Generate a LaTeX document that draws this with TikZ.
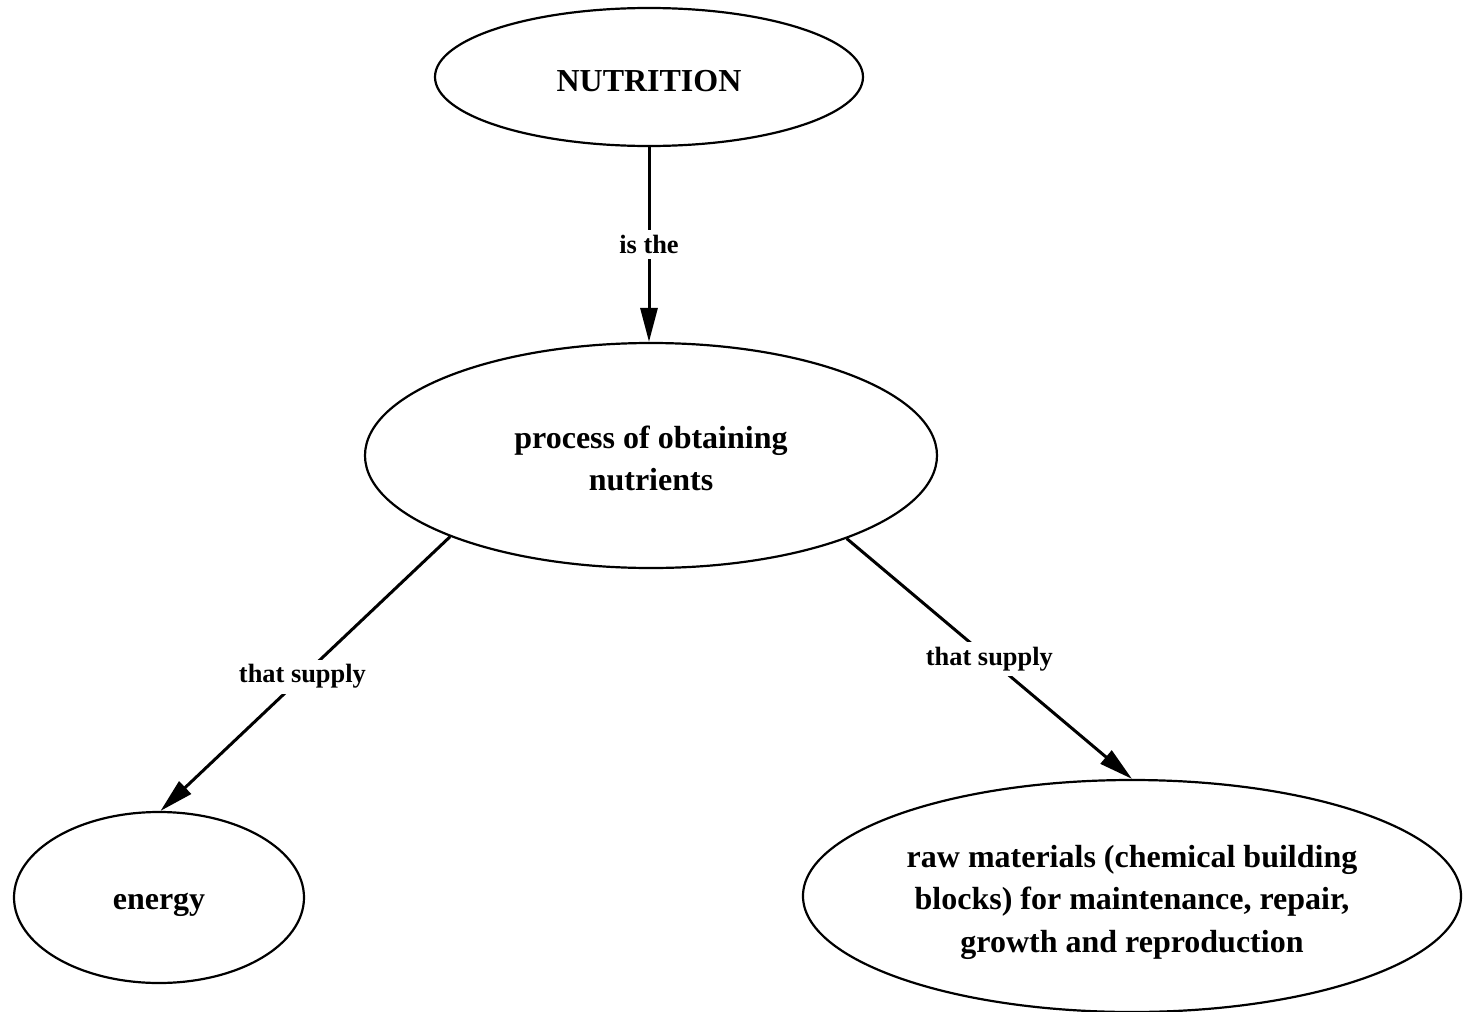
\documentclass[tikz,border=0pt]{standalone}
\usepackage{fontspec}
\setmainfont{Liberation Serif}
\usetikzlibrary{shapes.geometric,arrows.meta}
\begin{document}
\begin{tikzpicture}[x=0.5pt,y=-0.5pt,
  concept/.style={ellipse,draw,line width=1.1pt,inner sep=0pt},
  concepttext/.style={inner sep=0pt,align=center,
    font=\bfseries\fontsize{16}{21.25}\selectfont},
  link/.style={line width=1.5pt,-{Triangle[length=17pt,width=8.5pt]}},
  linklabel/.style={fill=white,inner sep=2.5pt,font=\bfseries\fontsize{13.2}{16}\selectfont}]
  \useasboundingbox (0,0) rectangle (1463,1012);

  % concept outlines
  \node[concept,minimum width=214pt,minimum height=69pt] (nut) at (649,77) {};
  \node[concept,minimum width=286pt,minimum height=112.5pt] (proc) at (651,455.5) {};
  \node[concept,minimum width=145pt,minimum height=85.5pt] (energy) at (159,897.5) {};
  \node[concept,minimum width=329pt,minimum height=116pt] (raw) at (1132,896) {};

  % concept texts
  \node[concepttext] (nuttext) at ([yshift=-2pt]nut.center) {NUTRITION};
  \node[concepttext] (proctext) at ([yshift=-1.5pt]proc.center)
    {process of obtaining\\nutrients};
  \node[concepttext] (energytext) at ([yshift=-3.5pt]energy.center) {energy};
  \node[concepttext] (rawtext) at ([yshift=-3pt]raw.center)
    {raw materials (chemical building\\blocks) for maintenance, repair,\\growth and reproduction};

  % links
  \draw[link] (nut.south) -- (nut.south |- proc.north)
    node[linklabel,midway] (l1) {is the};
  \draw[link] (proc.202.3) -- (energy.89)
    node[linklabel,pos=0.51] (l2) {that supply};
  \draw[link] (proc.337.9) -- (raw.90.5)
    node[linklabel,pos=0.5] (l3) {that supply};
\end{tikzpicture}
\end{document}
